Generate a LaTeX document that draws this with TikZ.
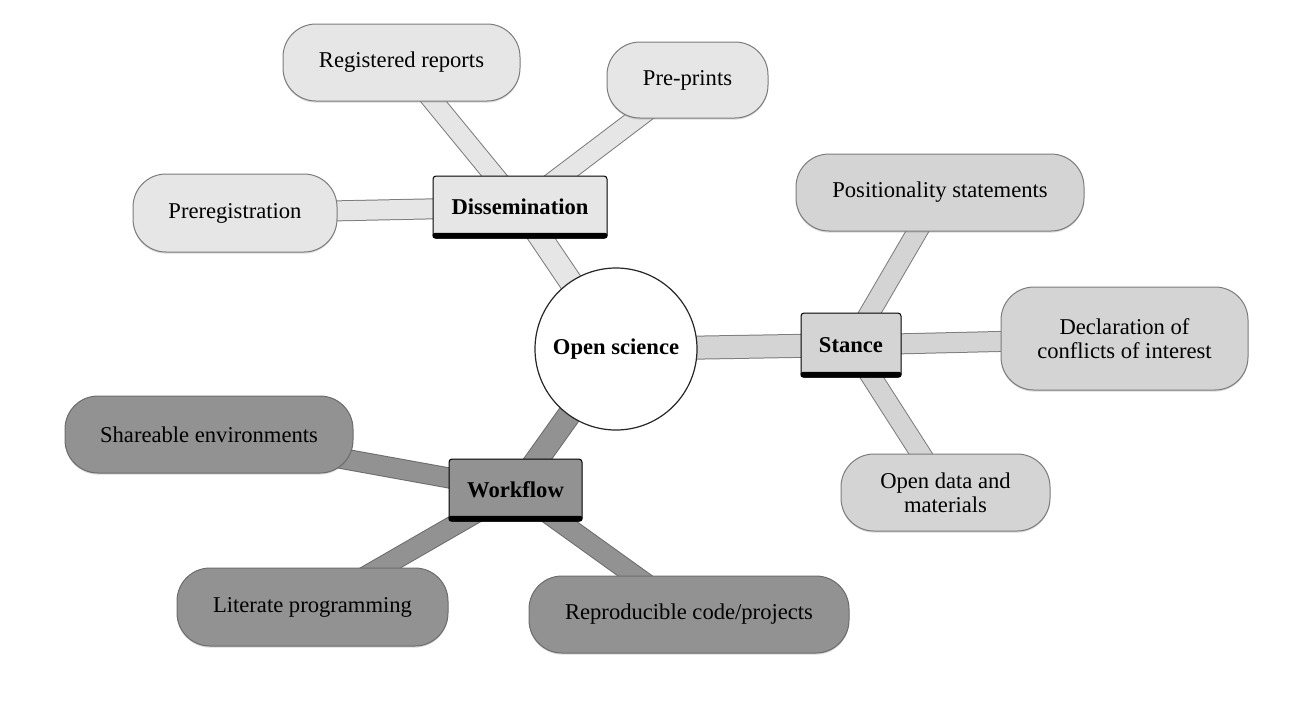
\documentclass[tikz,border=0pt]{standalone}
\usepackage{fontspec}
\setmainfont{Liberation Serif}
\usetikzlibrary{backgrounds,shadows}
\definecolor{disfill}{HTML}{E6E6E6}
\definecolor{stfill}{HTML}{D4D4D4}
\definecolor{wffill}{HTML}{929292}
\definecolor{edgeline}{HTML}{7C7C7C}
\definecolor{wfedge}{HTML}{6C6C6C}
\begin{document}
\begin{tikzpicture}[x=0.5pt,y=-0.5pt,
  every node/.style={font=\fontsize{11.3}{12}\selectfont, align=center},
  leaf/.style={draw=edgeline, line width=0.5pt, rounded corners=16.5pt, inner sep=0pt,
    drop shadow={shadow xshift=0pt, shadow yshift=-0.8pt, opacity=0.3}},
  hub/.style={draw=black, line width=0.5pt, rounded corners=1.5pt, inner sep=0pt,
    font=\fontsize{11.3}{12}\selectfont\bfseries},
  core/.style={circle, draw=black!85, line width=0.6pt, fill=white, minimum size=81pt,
    inner sep=0pt, font=\fontsize{11.3}{12}\selectfont\bfseries},
  hubbar/.style={fill=black, rounded corners=1.2pt}
]
\useasboundingbox (0,0) rectangle (1300,708);

% centre
\node[core] (os) at (616,349) {Open science};

% hubs
\node[hub, fill=disfill, minimum width=87pt, minimum height=31pt] (dis) at (520,207) {Dissemination};
\node[hub, fill=stfill, minimum width=50pt, minimum height=32pt] (st) at (851,345) {Stance};
\node[hub, fill=wffill, minimum width=66.5pt, minimum height=31pt] (wf) at (515.5,490) {Workflow};
\foreach \h in {dis,st,wf}
  \fill[hubbar] ([yshift=2.8pt]\h.south west) rectangle (\h.south east);

% leaves
\node[leaf, fill=disfill, minimum width=118.5pt, minimum height=38.5pt] (reg) at (401.5,62.5) {Registered reports};
\node[leaf, fill=disfill, minimum width=80.5pt, minimum height=38pt] (pre) at (687.5,80) {Pre-prints};
\node[leaf, fill=disfill, minimum width=102pt, minimum height=39pt] (prereg) at (235,213) {Preregistration};

\node[leaf, fill=stfill, minimum width=144pt, minimum height=38.5pt] (pos) at (940,192.5) {Positionality statements};
\node[leaf, fill=stfill, minimum width=123.5pt, minimum height=51.5pt] (decl) at (1124.5,338.5) {Declaration of\\conflicts of interest};
\node[leaf, fill=stfill, minimum width=104.5pt, minimum height=38.5pt] (odm) at (945.5,492.5) {Open data and\\materials};

\node[leaf, draw=wfedge, fill=wffill, minimum width=144pt, minimum height=38.5pt] (share) at (209,434.5) {Shareable environments};
\node[leaf, draw=wfedge, fill=wffill, minimum width=135.5pt, minimum height=39pt] (lit) at (312.5,607) {Literate programming};
\node[leaf, draw=wfedge, fill=wffill, minimum width=160pt, minimum height=38.5pt] (rep) at (689,614.5) {Reproducible code/projects};

% connectors (bands) behind everything
\begin{scope}[on background layer]
  \foreach \a/\b/\w/\c in {os/dis/12pt/edgeline, os/st/12pt/edgeline, os/wf/12pt/wfedge,
      dis/reg/10.5pt/edgeline, dis/pre/10.5pt/edgeline, dis/prereg/10.5pt/edgeline,
      st/pos/10.5pt/edgeline, st/decl/10.5pt/edgeline, st/odm/10.5pt/edgeline,
      wf/share/10.5pt/wfedge, wf/lit/10.5pt/wfedge, wf/rep/10.5pt/wfedge}
    \draw[line width=\w, draw=\c] (\a.center) -- (\b.center);
  \foreach \a/\b/\w/\c in {os/dis/11pt/disfill, os/st/11pt/stfill, os/wf/11pt/wffill,
      dis/reg/9.5pt/disfill, dis/pre/9.5pt/disfill, dis/prereg/9.5pt/disfill,
      st/pos/9.5pt/stfill, st/decl/9.5pt/stfill, st/odm/9.5pt/stfill,
      wf/share/9.5pt/wffill, wf/lit/9.5pt/wffill, wf/rep/9.5pt/wffill}
    \draw[line width=\w, draw=\c] (\a.center) -- (\b.center);
\end{scope}
\end{tikzpicture}
\end{document}
